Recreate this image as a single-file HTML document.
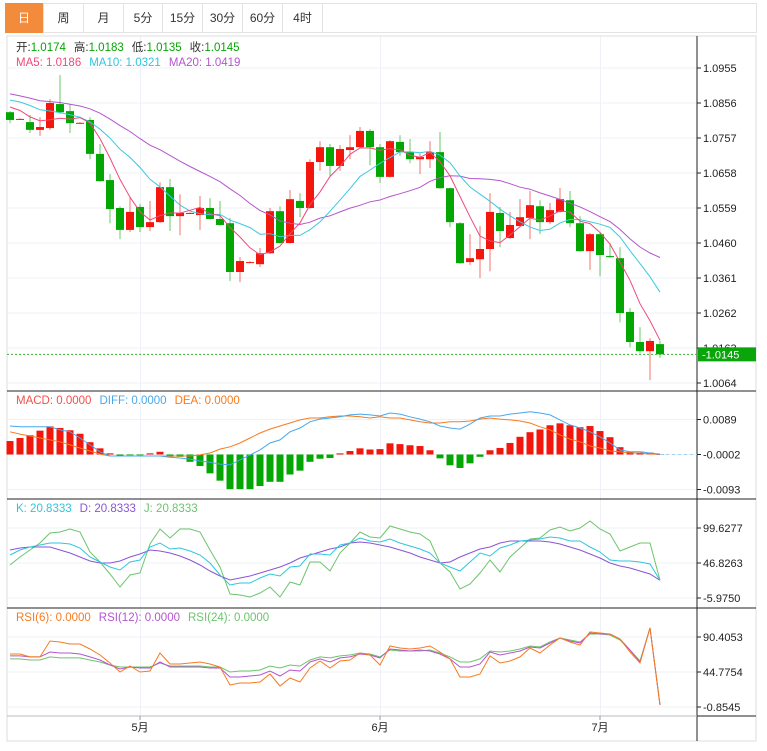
<!DOCTYPE html>
<html><head><meta charset="utf-8"><style>
body{margin:0;background:#fff;font-family:"Liberation Sans","Noto Sans CJK SC",sans-serif;}
#wrap{position:relative;width:767px;height:751px;overflow:hidden;}
.tab{position:absolute;top:3px;height:30px;line-height:30px;text-align:center;font-size:12px;color:#333;border-right:1px solid #e3e3e3;box-sizing:border-box;}
</style></head><body>
<div id="wrap">
<div style="position:absolute;left:5px;top:3px;width:752px;height:30px;border:1px solid #e3e3e3;border-bottom:1px solid #e3e3e3;box-sizing:border-box;"></div>
<div class="tab" style="left:5px;width:39px;background:#f28c3c;color:#fff;">日</div>
<div class="tab" style="left:44px;width:40px;">周</div>
<div class="tab" style="left:84px;width:40px;">月</div>
<div class="tab" style="left:124px;width:39px;">5分</div>
<div class="tab" style="left:163px;width:40px;">15分</div>
<div class="tab" style="left:203px;width:40px;">30分</div>
<div class="tab" style="left:243px;width:40px;">60分</div>
<div class="tab" style="left:283px;width:40px;">4时</div>
<svg id="svg" width="767" height="751" style="position:absolute;left:0;top:0" font-family="Liberation Sans, Noto Sans CJK SC, sans-serif"></svg>
</div>
<script>
const priorCloses=[1.0920,1.0905,1.0935,1.0910,1.0880,1.0895,1.0900,1.0870,1.0885,1.0890,1.0865,1.0880,1.0910,1.0890,1.0875,1.0860,1.0870,1.0845,1.0840];
const opens=[1.0830,1.0810,1.0802,1.0780,1.0785,1.0853,1.0833,1.0799,1.0808,1.0712,1.0638,1.0559,1.0497,1.0562,1.0505,1.0519,1.0618,1.0536,1.0544,1.0539,1.0559,1.0528,1.0516,1.0378,1.0405,1.0400,1.0431,1.0550,1.0460,1.0579,1.0559,1.0689,1.0731,1.0678,1.0723,1.0731,1.0777,1.0731,1.0647,1.0746,1.0717,1.0697,1.0697,1.0717,1.0615,1.0516,1.0406,1.0414,1.0443,1.0545,1.0474,1.0508,1.0531,1.0564,1.0519,1.0548,1.0581,1.0516,1.0437,1.0485,1.0423,1.0417,1.0265,1.0180,1.0154,1.0174];
const closes=[1.0808,1.0811,1.0780,1.0788,1.0856,1.0830,1.0799,1.0800,1.0712,1.0635,1.0556,1.0497,1.0548,1.0505,1.0519,1.0618,1.0536,1.0545,1.0545,1.0559,1.0528,1.0511,1.0378,1.0409,1.0406,1.0431,1.0550,1.0460,1.0584,1.0559,1.0689,1.0731,1.0678,1.0726,1.0731,1.0777,1.0731,1.0647,1.0748,1.0717,1.0697,1.0703,1.0717,1.0615,1.0519,1.0403,1.0417,1.0443,1.0548,1.0494,1.0511,1.0533,1.0567,1.0519,1.0553,1.0584,1.0516,1.0437,1.0485,1.0426,1.0420,1.0262,1.0180,1.0154,1.0183,1.0145];
const highs=[1.0833,1.0813,1.0822,1.0816,1.0867,1.0935,1.0853,1.0802,1.0816,1.0740,1.0655,1.0564,1.0590,1.0570,1.0579,1.0632,1.0641,1.0598,1.0547,1.0593,1.0587,1.0579,1.0531,1.0420,1.0409,1.0446,1.0559,1.0564,1.0610,1.0601,1.0697,1.0748,1.0740,1.0737,1.0765,1.0788,1.0782,1.0740,1.0751,1.0765,1.0754,1.0714,1.0748,1.0774,1.0617,1.0519,1.0485,1.0508,1.0601,1.0562,1.0548,1.0584,1.0607,1.0581,1.0573,1.0616,1.0607,1.0536,1.0488,1.0488,1.0460,1.0448,1.0276,1.0222,1.0191,1.0183];
const lows=[1.0799,1.0808,1.0771,1.0763,1.0780,1.0825,1.0771,1.0797,1.0697,1.0633,1.0516,1.0471,1.0491,1.0491,1.0494,1.0517,1.0494,1.0482,1.0542,1.0497,1.0526,1.0509,1.0352,1.0349,1.0403,1.0392,1.0429,1.0458,1.0458,1.0533,1.0557,1.0664,1.0649,1.0664,1.0697,1.0729,1.0680,1.0630,1.0645,1.0706,1.0686,1.0655,1.0672,1.0613,1.0505,1.0401,1.0398,1.0361,1.0380,1.0448,1.0471,1.0505,1.0471,1.0485,1.0514,1.0546,1.0505,1.0435,1.0384,1.0366,1.0418,1.0236,1.0165,1.0148,1.0072,1.0135];
const macdHist=[.0035,.0043,.0050,.0062,.0073,.0069,.0063,.0054,.0032,.0016,.0003,-.0003,-.0001,-.0001,.0003,.0007,-.0006,-.0006,-.0019,-.0030,-.0049,-.0068,-.0090,-.0090,-.0090,-.0082,-.0071,-.0071,-.0052,-.0042,-.0019,-.0011,-.0009,.0003,.0009,.0016,.0013,.0014,.0029,.0027,.0024,.0022,.0011,-.0010,-.0028,-.0035,-.0023,-.0006,.0011,.0017,.0030,.0046,.0058,.0065,.0076,.0081,.0076,.0071,.0074,.0061,.0045,.0019,.0007,.0005,.0005,.0001];
const diffVals=[.0074,.0072,.0072,.0072,.0072,.0064,.0059,.0043,.0025,.0007,-.0004,-.0004,-.0004,-.0004,-.0004,-.0004,-.0007,-.0009,-.0012,-.0017,-.0020,-.0025,-.0027,-.0014,-.0001,.0012,.0030,.0038,.0059,.0069,.0085,.0092,.0095,.0098,.0103,.0105,.0103,.0100,.0108,.0105,.0098,.0092,.0085,.0074,.0069,.0066,.0079,.0095,.0100,.0100,.0105,.0108,.0111,.0108,.0103,.0090,.0077,.0069,.0059,.0046,.0030,.0012,.0007,.0007,.0004,.0001];
const deaVals=[.0059,.0053,.0048,.0043,.0038,.0033,.0025,.0017,.0009,.0001,-.0004,-.0004,-.0004,-.0004,-.0004,-.0004,-.0004,-.0004,-.0004,-.0001,.0004,.0014,.0020,.0030,.0043,.0056,.0066,.0074,.0082,.0090,.0095,.0095,.0098,.0100,.0100,.0098,.0095,.0098,.0095,.0095,.0090,.0085,.0082,.0082,.0085,.0085,.0087,.0092,.0095,.0092,.0090,.0087,.0082,.0072,.0064,.0051,.0040,.0033,.0022,.0017,.0009,.0007,.0004,.0004,.0001,.0001];
const kVals=[58.9,66.4,70.9,74.0,77.0,77.0,75.5,69.4,55.9,48.3,40.8,36.3,48.3,51.3,70.9,77.0,67.9,69.4,64.9,58.9,46.8,28.7,13.6,16.6,16.6,24.2,30.2,27.2,40.8,42.3,60.4,60.4,58.9,74.0,77.0,84.5,80.0,78.5,83.0,77.0,72.5,67.9,61.9,46.8,40.8,34.7,48.3,61.9,57.4,69.4,74.0,80.0,81.5,83.0,86.0,84.5,80.0,80.0,70.9,63.4,51.3,49.8,49.8,48.3,45.3,20.8];
const dVals=[66.4,69.4,70.9,70.9,70.9,66.4,61.9,55.9,49.8,46.8,46.8,49.8,55.9,60.4,66.4,64.9,61.9,57.4,51.3,43.8,34.7,27.2,21.2,24.2,27.2,31.7,36.3,40.8,46.8,54.3,58.9,63.4,67.9,70.9,77.0,78.5,77.0,74.0,70.9,66.4,61.9,55.9,51.3,46.8,48.3,55.9,61.9,67.9,70.9,77.0,80.0,80.0,80.0,80.0,78.5,75.5,70.9,66.4,60.4,54.3,46.8,42.3,39.3,34.7,30.2,20.8];
const jVals=[43.8,55.9,66.4,77.0,92.1,93.6,98.1,93.6,63.4,48.3,30.2,10.6,28.7,31.7,75.5,98.1,84.5,98.1,98.1,93.6,66.4,40.8,0.0,-1.5,-4.5,1.5,10.6,-4.5,18.1,13.6,48.3,48.3,34.7,61.9,77.0,93.6,86.0,84.5,102.6,98.1,93.6,90.6,80.0,46.8,33.2,7.6,15.1,31.7,51.3,33.2,55.9,69.4,83.0,84.5,96.6,101.1,95.1,99.6,110.2,98.1,90.6,64.9,70.9,77.0,77.0,20.8];
const rsi6=[68.3,68.3,64.4,64.4,85.2,83.9,81.3,81.3,74.8,67.0,56.5,44.8,52.6,44.8,46.1,69.6,55.2,55.2,56.5,57.8,55.2,51.3,27.8,30.4,30.4,31.7,42.2,26.5,37.0,31.7,50.0,59.1,50.0,59.1,60.4,69.6,67.0,53.9,78.7,76.1,74.8,76.1,78.7,70.9,61.8,38.3,38.3,42.2,65.7,56.5,59.1,64.4,76.1,69.6,80.0,89.1,83.9,80.0,97.0,95.6,94.3,87.8,70.9,56.5,102.2,1.8];
const rsi12=[65.7,65.7,64.4,64.4,70.9,69.6,69.6,68.3,64.4,60.4,53.9,48.7,51.3,50.0,50.0,57.8,51.3,51.3,51.3,51.3,50.0,50.0,38.3,38.3,39.6,40.9,46.1,39.6,47.4,46.1,57.8,61.8,57.8,63.1,64.4,68.3,67.0,63.1,74.8,73.5,72.2,73.5,72.2,68.3,61.8,51.3,51.3,55.2,70.9,67.0,69.6,72.2,77.4,76.1,82.6,89.1,85.2,82.6,95.6,94.3,94.3,87.8,73.5,57.8,102.2,1.8];
const rsi24=[61.8,61.8,60.4,60.4,64.4,63.1,63.1,63.1,60.4,57.8,53.9,51.3,51.3,51.3,51.3,56.5,52.6,52.6,52.6,52.6,51.3,51.3,44.8,46.1,46.1,47.4,52.6,50.0,53.9,52.6,60.4,64.4,63.1,65.7,67.0,69.6,68.3,64.4,73.5,72.2,72.2,72.2,73.5,69.6,64.4,57.8,57.8,61.8,72.2,70.9,72.2,74.8,78.7,77.4,83.9,89.1,86.5,83.9,94.3,94.3,93.0,86.5,73.5,59.1,102.2,1.8];
const priceTicks=["1.0955","1.0856","1.0757","1.0658","1.0559","1.0460","1.0361","1.0262","1.0163","1.0064"];
const macdTicks=["0.0089","-0.0002","-0.0093"];
const kdjTicks=["99.6277","46.8263","-5.9750"];
const rsiTicks=["90.4053","44.7754","-0.8545"];
const monthLabels=["5月","6月","7月"];
const monthIdx=[13,37,59];

const NS="http://www.w3.org/2000/svg";
const svg=document.getElementById('svg');
function el(tag,attrs,parent){const e=document.createElementNS(NS,tag);for(const k in attrs)e.setAttribute(k,attrs[k]);(parent||svg).appendChild(e);return e;}
const X=i=>10+10*i;
const yP=p=>68+(1.0955-p)/0.0099*35;
const yM=v=>454.5-v/0.00026;
const yK=v=>563-(v-46.8263)/1.5086;
const yR=v=>672-(v-44.7754)/1.3037;
const AX=697;

// grid
const grid=el('g',{});


priceTicks.forEach(t=>el('line',{x1:7,x2:AX,y1:yP(+t),y2:yP(+t),stroke:'#eef2f6'},grid));
macdTicks.forEach(t=>el('line',{x1:7,x2:AX,y1:yM(+t+0.0002),y2:yM(+t+0.0002),stroke:'#eef2f6'},grid));
kdjTicks.forEach(t=>el('line',{x1:7,x2:AX,y1:yK(+t),y2:yK(+t),stroke:'#eef2f6'},grid));
rsiTicks.forEach(t=>el('line',{x1:7,x2:AX,y1:yR(+t),y2:yR(+t),stroke:'#eef2f6'},grid));
monthIdx.forEach(i=>el('line',{x1:X(i)+0.5,x2:X(i)+0.5,y1:36,y2:716,stroke:'#eef2f6'},grid));

// frame
el('rect',{x:7,y:36,width:749,height:705,fill:'none',stroke:'#dcdcdc'});
el('line',{x1:AX,x2:AX,y1:36,y2:741,stroke:'#222'});
[391,499,608].forEach(y=>el('line',{x1:7,x2:756,y1:y,y2:y,stroke:'#222'}));
el('line',{x1:7,x2:AX,y1:716,y2:716,stroke:'#bbb'});
el('line',{x1:AX,x2:756,y1:716,y2:716,stroke:'#222'});

function ticks(arr,fy,name){arr.forEach(t=>{const y=fy(t);el('line',{x1:AX,x2:AX+4,y1:y,y2:y,stroke:'#222'});const tx=el('text',{x:AX+6,y:y+4,'font-size':11,fill:'#222'});tx.textContent=t.label;});}
ticks(priceTicks.map(s=>({label:s,v:+s})),t=>yP(t.v),'price-tick');
ticks(macdTicks.map(s=>({label:s,v:+s})),t=>yM(t.v+0.0002),'macd-tick');
ticks(kdjTicks.map(s=>({label:s,v:+s})),t=>yK(t.v),'kdj-tick');
ticks(rsiTicks.map(s=>({label:s,v:+s})),t=>yR(t.v),'rsi-tick');
monthLabels.forEach((m,k)=>{const x=X(monthIdx[k]);el('line',{x1:x,x2:x,y1:716,y2:720,stroke:'#999'});const t=el('text',{x:x,y:731,'font-size':11,fill:'#222','text-anchor':'middle'});t.textContent=m;});

const RED='#f2160c',GREEN='#03a603';
// candles
closes.forEach((c,i)=>{const o=opens[i],up=c>=o,col=up?RED:GREEN;const g=el('g',{});


el('line',{x1:X(i),x2:X(i),y1:yP(highs[i]),y2:yP(lows[i]),stroke:col,'stroke-opacity':0.6},g);
const t=yP(Math.max(o,c)),b=yP(Math.min(o,c));el('rect',{x:X(i)-4,y:t,width:8,height:Math.max(1,b-t),fill:col},g);});
// MAs
const all=priorCloses.concat(closes);
function ma(n){return closes.map((_,i)=>{const e=i+priorCloses.length;let s=0,c=0;for(let k=e-n+1;k<=e;k++){if(k>=0){s+=all[k];c++;}}return s/c;});}
function line(vals,fy,col,name){const p=el('polyline',{points:vals.map((v,i)=>X(i)+','+fy(v).toFixed(1)).join(' '),fill:'none',stroke:col,'stroke-width':1});}
line(ma(20),yP,'#b455cf','ma20-line');
line(ma(10),yP,'#3cc9e0','ma10-line');
line(ma(5),yP,'#f0497b','ma5-line');
// current price
const last=closes[closes.length-1];
el('line',{x1:7,x2:AX,y1:yP(last),y2:yP(last),stroke:'#3cb83c','stroke-dasharray':'2,2'});
const pb=el('rect',{x:AX+1,y:yP(last)-7,width:58,height:14,fill:'#0aa50a'});


const pt=el('text',{x:AX+5,y:yP(last)+4,'font-size':11,fill:'#fff'});pt.textContent='-'+last.toFixed(4);

// MACD
macdHist.forEach((v,i)=>{const r=el('rect',{x:X(i)-3.5,y:Math.min(yM(0),yM(v)),width:7,height:Math.max(0.8,Math.abs(yM(v)-yM(0))),fill:v>=0?RED:GREEN});

});
el('line',{x1:X(65),x2:AX,y1:yM(0),y2:yM(0),stroke:'#9fd0ee','stroke-dasharray':'3,3'});
line(deaVals,yM,'#f77b1f','dea-line');
line(diffVals,yM,'#48a8ee','diff-line');
// KDJ
line(jVals,yK,'#6cc46c','j-line');
line(dVals,yK,'#8a55d6','d-line');
line(kVals,yK,'#2ec6de','k-line');
// RSI
line(rsi24,yR,'#6cc46c','rsi24-line');
line(rsi12,yR,'#b455cf','rsi12-line');
line(rsi6,yR,'#f77b1f','rsi6-line');

// legends
function legend(y,items,name){const t=el('text',{x:16,y:y,'font-size':11.5});items.forEach(([s,c,dx])=>{const sp=el('tspan',{fill:c},t);if(dx)sp.setAttribute('dx',dx);sp.textContent=s;});}
legend(51,[['开:','#333'],['1.0174',GREEN],['高:','#333',8],['1.0183',GREEN],['低:','#333',8],['1.0135',GREEN],['收:','#333',8],['1.0145',GREEN]],'ohlc-legend');
legend(66,[['MA5: 1.0186','#f0497b'],['MA10: 1.0321','#2ec6de',8],['MA20: 1.0419','#b455cf',8]],'ma-legend');
legend(404,[['MACD: 0.0000','#f2504a'],['DIFF: 0.0000','#48a8ee',8],['DEA: 0.0000','#f77b1f',8]],'macd-legend');
legend(512,[['K: 20.8333','#2ec6de'],['D: 20.8333','#8a55d6',8],['J: 20.8333','#6cc46c',8]],'kdj-legend');
legend(621,[['RSI(6): 0.0000','#f77b1f'],['RSI(12): 0.0000','#b455cf',8],['RSI(24): 0.0000','#6cc46c',8]],'rsi-legend');
</script>
</body></html>
